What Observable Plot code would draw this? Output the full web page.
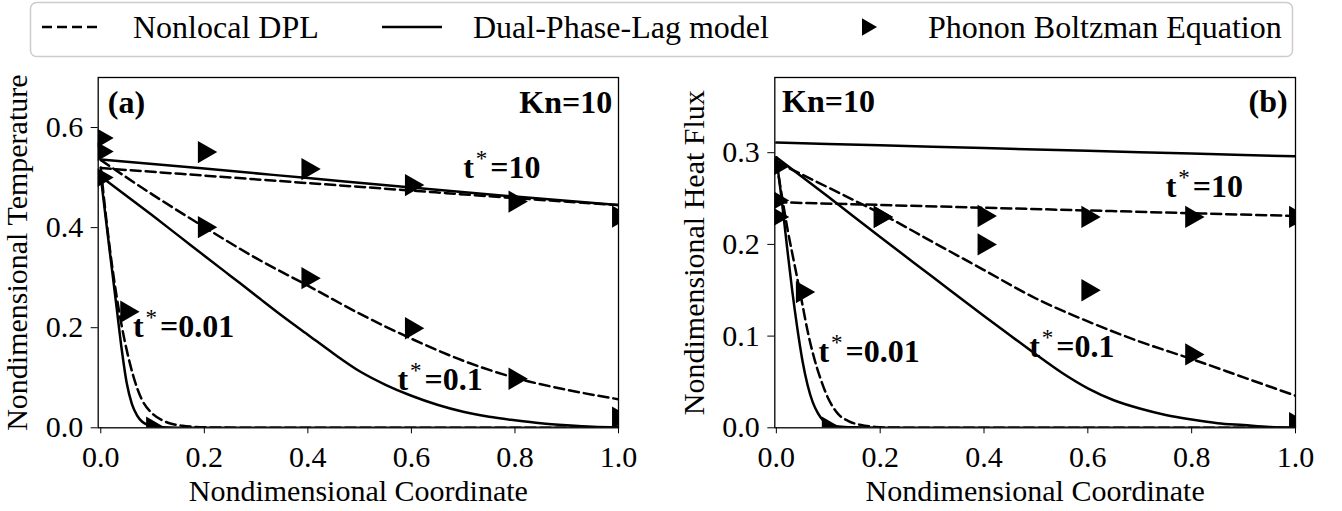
<!DOCTYPE html>
<html>
<head>
<meta charset="utf-8">
<script src="https://cdn.jsdelivr.net/npm/d3@7"></script>
<script src="https://cdn.jsdelivr.net/npm/@observablehq/plot@0.6"></script>
<style>
  html, body { margin: 0; padding: 0; background: white; }
  body { width: 1342px; height: 511px; position: relative; overflow: hidden; font-family: "Liberation Serif", "Times New Roman", serif; }
  .abs { position: absolute; }
</style>
</head>
<body>
<div id="legend" class="abs" style="left:0;top:0;"></div>
<div id="pa" class="abs" style="left:0;top:60px;"></div>
<div id="pb" class="abs" style="left:671px;top:60px;"></div>
<script>
// ---------- labels & ticks ----------
const legendLabels = ["Nonlocal DPL", "Dual-Phase-Lag model", "Phonon Boltzman Equation"];
const xLabel = "Nondimensional Coordinate";
const yLabelA = "Nondimensional Temperature";
const yLabelB = "Nondimensional Heat Flux";
const xTicks = [0, 0.2, 0.4, 0.6, 0.8, 1.0];
const yTicksA = [0, 0.2, 0.4, 0.6];
const yTicksB = [0, 0.1, 0.2, 0.3];

// ---------- panel (a): temperature ----------
// Dual-Phase-Lag (solid)
const aDplT10X = [0, 0.2, 0.4, 0.6, 0.8, 1.0];
const aDplT10Y = [0.536, 0.518, 0.499, 0.480, 0.462, 0.445];
const aDplT01X = [0, 0.05, 0.1, 0.15, 0.2, 0.25, 0.3, 0.35, 0.4, 0.45, 0.5, 0.55, 0.6, 0.65, 0.7, 0.75, 0.8, 0.85, 0.9, 0.95, 1.0];
const aDplT01Y = [0.502, 0.463, 0.424, 0.384, 0.344, 0.304, 0.264, 0.224, 0.186, 0.148, 0.113, 0.086, 0.064, 0.046, 0.032, 0.022, 0.015, 0.009, 0.005, 0.002, 0.001];
const aDplT001X = [0, 0.01, 0.02, 0.03, 0.04, 0.05, 0.06, 0.07, 0.08, 0.09, 0.1, 0.12, 0.15, 0.2, 0.4, 0.6, 0.8, 1.0];
const aDplT001Y = [0.502, 0.415, 0.330, 0.245, 0.160, 0.090, 0.048, 0.025, 0.012, 0.006, 0.003, 0.001, 0, 0, 0, 0, 0, 0];
// Nonlocal DPL (dashed)
const aNdplT10X = [0, 0.2, 0.4, 0.6, 0.8, 1.0];
const aNdplT10Y = [0.519, 0.504, 0.489, 0.474, 0.459, 0.445];
const aNdplT01X = [0, 0.1, 0.2, 0.3, 0.4, 0.5, 0.6, 0.7, 0.8, 0.9, 1.0];
const aNdplT01Y = [0.535, 0.466, 0.401, 0.339, 0.284, 0.228, 0.178, 0.134, 0.100, 0.076, 0.057];
const aNdplT001X = [0, 0.005, 0.016, 0.035, 0.0547, 0.07, 0.08, 0.1, 0.119, 0.14, 0.158, 0.18, 0.2, 0.3, 0.5, 0.7, 1.0];
const aNdplT001Y = [0.520, 0.470, 0.370, 0.235, 0.135, 0.080, 0.055, 0.028, 0.015, 0.007, 0.004, 0.002, 0.001, 0, 0, 0, 0];
// Phonon Boltzmann (markers)
const aPbeT10X = [0, 0.2, 0.4, 0.6, 0.8, 1.0];
const aPbeT10Y = [0.579, 0.551, 0.517, 0.485, 0.452, 0.422];
const aPbeT01X = [0, 0.2, 0.4, 0.6, 0.8, 1.0];
const aPbeT01Y = [0.552, 0.401, 0.299, 0.199, 0.098, 0.02];
const aPbeT001X = [0, 0.05, 0.1];
const aPbeT001Y = [0.50, 0.232, 0];

// ---------- panel (b): heat flux ----------
const bDplT10X = [0, 0.2, 0.4, 0.6, 0.8, 1.0];
const bDplT10Y = [0.311, 0.308, 0.305, 0.302, 0.299, 0.296];
const bDplT01X = [0, 0.1, 0.2, 0.3, 0.4, 0.45, 0.5, 0.55, 0.6, 0.65, 0.7, 0.75, 0.8, 0.85, 0.9, 0.95, 1.0];
const bDplT01Y = [0.295, 0.252, 0.208, 0.165, 0.122, 0.101, 0.080, 0.060, 0.043, 0.030, 0.021, 0.014, 0.009, 0.005, 0.003, 0.001, 0];
const bDplT001X = [0, 0.01, 0.02, 0.03, 0.04, 0.05, 0.06, 0.07, 0.08, 0.09, 0.1, 0.12, 0.15, 0.2, 0.4, 0.6, 0.8, 1.0];
const bDplT001Y = [0.295, 0.250, 0.200, 0.152, 0.110, 0.074, 0.047, 0.028, 0.016, 0.008, 0.004, 0.0015, 0.0005, 0, 0, 0, 0, 0];
const bNdplT10X = [0, 0.2, 0.4, 0.6, 0.8, 1.0];
const bNdplT10Y = [0.246, 0.243, 0.240, 0.237, 0.234, 0.231];
const bNdplT01X = [0, 0.05, 0.1, 0.15, 0.2, 0.3, 0.4, 0.5, 0.6, 0.7, 0.8, 0.9, 1.0];
const bNdplT01Y = [0.290, 0.276, 0.262, 0.248, 0.234, 0.203, 0.172, 0.141, 0.116, 0.094, 0.075, 0.055, 0.035];
const bNdplT001X = [0, 0.01, 0.022, 0.03, 0.041, 0.05, 0.06, 0.07, 0.086, 0.1, 0.118, 0.14, 0.163, 0.19, 0.22, 0.3, 0.5, 0.7, 1.0];
const bNdplT001Y = [0.290, 0.255, 0.215, 0.192, 0.161, 0.135, 0.106, 0.082, 0.052, 0.032, 0.0157, 0.007, 0.003, 0.001, 0.0003, 0, 0, 0, 0];
const bPbeT10X = [0, 0.2, 0.4, 0.6, 0.8, 1.0];
const bPbeT10Y = [0.248, 0.230, 0.231, 0.230, 0.230, 0.230];
const bPbeT01X = [0, 0.2, 0.4, 0.6, 0.8, 1.0];
const bPbeT01Y = [0.285, 0.230, 0.200, 0.150, 0.080, 0.005];
const bPbeT001X = [0, 0.05, 0.1];
const bPbeT001Y = [0.23, 0.148, 0];

// ---------- annotations ----------
const aNoteText = ["(a)", "t*=10", "t*=0.01", "t*=0.1"];
const aNoteX = [0.0135, 0.70, 0.062, 0.573];
const aNoteY = [0.630, 0.500, 0.182, 0.075];
const aRightText = ["Kn=10"];
const aRightX = [0.988];
const aRightY = [0.630];
const bNoteText = ["Kn=10", "t*=10", "t*=0.01", "t*=0.1"];
const bNoteX = [0.011, 0.750, 0.081, 0.487];
const bNoteY = [0.344, 0.2516, 0.072, 0.077];
const bRightText = ["(b)"];
const bRightX = [0.985];
const bRightY = [0.344];

const FONT = '"Liberation Serif", "Times New Roman", serif';
const LW = 2.5;
const DASH = "10,5";
const rows = (xs, ys) => xs.map((x, i) => ({x, y: ys[i]}));
const notes = (ts, xs, ys) => ts.map((t, i) => ({t, x: xs[i], y: ys[i]}));

function panel(o) {
  const marks = [];
  for (const s of o.ndpl) marks.push(Plot.line(s, {x: "x", y: "y", stroke: "black", strokeWidth: LW, strokeDasharray: DASH, curve: "monotone-x", clip: true}));
  for (const s of o.dpl) marks.push(Plot.line(s, {x: "x", y: "y", stroke: "black", strokeWidth: LW, curve: "monotone-x", clip: true}));
  for (const s of o.pbe) marks.push(Plot.dot(s, {x: "x", y: "y", symbol: "triangle", r: 8.3, rotate: 90, fill: "black", stroke: "none", clip: true}));
  marks.push(Plot.frame({stroke: "black", strokeWidth: 1.3}));
  marks.push(Plot.text(o.notesStart, {x: "x", y: "y", text: "t", textAnchor: "start", lineAnchor: "bottom", fontWeight: "bold", fontSize: 32}));
  marks.push(Plot.text(o.notesEnd, {x: "x", y: "y", text: "t", textAnchor: "end", lineAnchor: "bottom", fontWeight: "bold", fontSize: 32}));
  marks.push(Plot.text([xLabel], {frameAnchor: "bottom", dy: 72.7, lineAnchor: "bottom", textAnchor: "middle", fontSize: 30}));
  marks.push(Plot.text([o.yLabel], {frameAnchor: "left", dx: -71, rotate: -90, lineAnchor: "bottom", textAnchor: "middle", fontSize: 30}));
  const svg = Plot.plot({
    width: o.width, height: 451,
    marginTop: 17, marginBottom: 83.7, marginLeft: o.marginLeft, marginRight: o.marginRight,
    style: {fontFamily: FONT, fontSize: "30px", color: "black", background: "white", overflow: "visible"},
    x: {domain: o.xDomain, ticks: xTicks, tickFormat: d3.format(".1f"), tickSize: 6, tickPadding: 12, label: null},
    y: {domain: o.yDomain, ticks: o.yTicks, tickFormat: d3.format(".1f"), tickSize: 7, tickPadding: 8, label: null},
    marks
  });
  // superscript asterisk in t*
  const ns = "http://www.w3.org/2000/svg";
  for (const t of svg.querySelectorAll("text")) {
    const m = /^t\*(=.*)$/.exec(t.textContent);
    if (!m) continue;
    t.textContent = "";
    const a = document.createElementNS(ns, "tspan"); a.textContent = "t";
    const b = document.createElementNS(ns, "tspan"); b.textContent = "*";
    b.setAttribute("dy", "-12"); b.setAttribute("dx", "2"); b.setAttribute("font-size", "23"); b.setAttribute("font-weight", "normal");
    const c = document.createElementNS(ns, "tspan"); c.textContent = m[1];
    c.setAttribute("dy", "12"); c.setAttribute("dx", "3");
    t.append(a, b, c);
  }
  return svg;
}

document.getElementById("pa").append(panel({
  width: 660, marginLeft: 97.7, marginRight: 42,
  xDomain: [-0.005, 1], yDomain: [0, 0.7], yTicks: yTicksA, yLabel: yLabelA,
  dpl: [rows(aDplT10X, aDplT10Y), rows(aDplT01X, aDplT01Y), rows(aDplT001X, aDplT001Y)],
  ndpl: [rows(aNdplT10X, aNdplT10Y), rows(aNdplT01X, aNdplT01Y), rows(aNdplT001X, aNdplT001Y)],
  pbe: [rows(aPbeT10X, aPbeT10Y), rows(aPbeT01X, aPbeT01Y), rows(aPbeT001X, aPbeT001Y)],
  notesStart: notes(aNoteText, aNoteX, aNoteY), notesEnd: notes(aRightText, aRightX, aRightY)
}));
document.getElementById("pb").append(panel({
  width: 671, marginLeft: 103.3, marginRight: 47,
  xDomain: [-0.003, 1], yDomain: [0, 0.382], yTicks: yTicksB, yLabel: yLabelB,
  dpl: [rows(bDplT10X, bDplT10Y), rows(bDplT01X, bDplT01Y), rows(bDplT001X, bDplT001Y)],
  ndpl: [rows(bNdplT10X, bNdplT10Y), rows(bNdplT01X, bNdplT01Y), rows(bNdplT001X, bNdplT001Y)],
  pbe: [rows(bPbeT10X, bPbeT10Y), rows(bPbeT01X, bPbeT01Y), rows(bPbeT001X, bPbeT001Y)],
  notesStart: notes(bNoteText, bNoteX, bNoteY), notesEnd: notes(bRightText, bRightX, bRightY)
}));

// ---------- legend ----------
(function () {
  const ns = "http://www.w3.org/2000/svg";
  const svg = d3.create("svg").attr("xmlns", ns).attr("width", 1342).attr("height", 60)
    .style("font-family", FONT).style("font-size", "32px");
  svg.append("rect").attr("x", 30.5).attr("y", 2.5).attr("width", 1262).attr("height", 54)
    .attr("rx", 6).attr("fill", "white").attr("stroke", "#cccccc").attr("stroke-width", 1.5);
  const cy = 27;
  svg.append("line").attr("x1", 42).attr("x2", 102).attr("y1", cy).attr("y2", cy)
    .attr("stroke", "black").attr("stroke-width", LW).attr("stroke-dasharray", DASH);
  svg.append("line").attr("x1", 382).attr("x2", 442).attr("y1", cy).attr("y2", cy)
    .attr("stroke", "black").attr("stroke-width", LW);
  svg.append("path").attr("d", d3.symbol(d3.symbolTriangle2, Math.PI * 8.3 * 8.3)())
    .attr("transform", `translate(867,${cy}) rotate(90)`).attr("fill", "black");
  const xs = [133, 473, 928];
  legendLabels.forEach((l, i) => svg.append("text").attr("x", xs[i]).attr("y", cy + 11).text(l));
  document.getElementById("legend").append(svg.node());
})();
</script>
</body>
</html>
